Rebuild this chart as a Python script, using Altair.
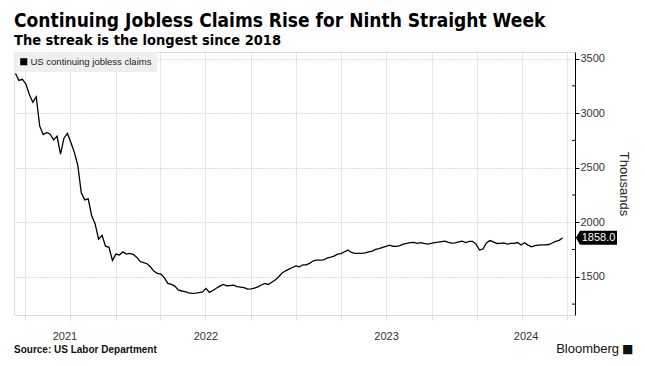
import altair as alt
import pandas as pd

# Weekly US continuing jobless claims (thousands)
values = [
    3363, 3300, 3310, 3267, 3170, 3100, 3149, 2880, 2804, 2823,
    2807, 2755, 2790, 2624, 2770, 2814, 2730, 2640, 2520, 2270,
    2205, 2215, 2060, 1985, 1845, 1880, 1781, 1770, 1650, 1708,
    1700, 1728, 1708, 1714, 1705, 1680, 1640, 1630, 1620, 1590,
    1550, 1531, 1525, 1490, 1440, 1430, 1415, 1380, 1370, 1365,
    1352, 1348, 1350, 1355, 1362, 1394, 1357, 1375, 1395, 1415,
    1430, 1418, 1420, 1424, 1410, 1405, 1400, 1387, 1390, 1396,
    1408, 1425, 1440, 1430, 1450, 1470, 1500, 1535, 1555, 1570,
    1585, 1600, 1592, 1610, 1610, 1625, 1647, 1652, 1653, 1655,
    1672, 1680, 1690, 1708, 1712, 1730, 1745, 1723, 1715, 1714,
    1714, 1720, 1729, 1735, 1751, 1758, 1770, 1778, 1790, 1780,
    1778, 1786, 1800, 1806, 1814, 1815, 1806, 1813, 1806, 1800,
    1806, 1814, 1818, 1823, 1827, 1815, 1808, 1810, 1820, 1826,
    1814, 1824, 1824, 1800, 1745, 1755, 1810, 1832, 1820, 1805,
    1806, 1810, 1800, 1806, 1806, 1814, 1792, 1812, 1790, 1775,
    1785, 1791, 1793, 1793, 1796, 1810, 1825, 1834, 1858,
]
dates = pd.date_range("2021-06-12", periods=len(values), freq="7D")
series_name = "US continuing jobless claims"

year_labels = ["2021", "2022", "2023", "2024"]
year_label_dates = ["2021-09-20", "2022-07-02", "2023-07-02", "2024-04-09"]

x_domain = ["2021-06-09", "2024-07-17"]
y_domain = [1150, 3560]
y_major_ticks = [1500, 2000, 2500, 3000, 3500]
y_minor_ticks = [1250, 1750, 2250, 2750, 3250]

W, H = 561, 263
FONT = "Liberation Sans"

df = pd.DataFrame({"date": dates, "value": values, "series": series_name})
last = df.tail(1).copy()
last["label"] = last["value"].map(lambda v: f"{v:.1f}")
years_df = pd.DataFrame({"date": pd.to_datetime(year_label_dates), "label": year_labels})
minor_df = pd.DataFrame({"value": y_minor_ticks})

x_scale = alt.Scale(domain=[pd.Timestamp(d).isoformat() for d in x_domain])
y_scale = alt.Scale(domain=y_domain, nice=False, zero=False)

x_axis = alt.Axis(
    title=None, labels=False, domain=False,
    tickCount={"interval": "month", "step": 3},
    grid=True, gridColor="#e6e6e6", gridWidth=1,
    ticks=True, tickColor="#dddddd", tickSize=5,
)
y_axis = alt.Axis(
    orient="right", title="Thousands", titleFontSize=13, titleFont=FONT,
    titleFontWeight="normal", titleColor="#222222", titlePadding=12,
    values=y_major_ticks, format="d",
    labelFont=FONT, labelFontSize=11, labelColor="#333333", labelPadding=1,
    domain=True, domainColor="#000000", domainWidth=1,
    ticks=True, tickColor="#000000", tickSize=4,
    grid=True, gridColor="#bbbbbb", gridDash=[1, 2],
)

line = alt.Chart(df).mark_line(strokeWidth=1.3, color="#000000").encode(
    x=alt.X("date:T", scale=x_scale, axis=x_axis),
    y=alt.Y("value:Q", scale=y_scale, axis=y_axis),
    color=alt.Color(
        "series:N",
        scale=alt.Scale(range=["#000000"]),
        legend=alt.Legend(
            title=None, orient="top-left", offset=0, padding=5,
            fillColor="#efefef", symbolType="square", symbolSize=50,
            symbolFillColor="#000000", symbolStrokeWidth=0,
            labelFont=FONT, labelFontSize=9.5, labelColor="#222222",
            labelOffset=2,
        ),
    ),
)

minor = alt.Chart(minor_df).mark_rule(color="#000000", strokeWidth=1).encode(
    x=alt.value(W - 3), x2=alt.value(W), y=alt.Y("value:Q", scale=y_scale)
)

box_path = "M-1.22,0 L-1,-0.38 L1,-0.38 L1,0.38 L-1,0.38 Z"
tag = alt.Chart(last).mark_point(
    shape=box_path, size=1369, filled=True, color="#000000", opacity=1
).encode(x=alt.value(W + 23.5), y=alt.Y("value:Q", scale=y_scale))
tag_text = alt.Chart(last).mark_text(
    color="#ffffff", fontSize=11, font=FONT, align="center", baseline="middle"
).encode(x=alt.value(W + 23.5), y=alt.Y("value:Q", scale=y_scale), text="label:N")

years = alt.Chart(years_df).mark_text(
    fontSize=11, font=FONT, color="#333333", baseline="middle", align="center"
).encode(x=alt.X("date:T", scale=x_scale), y=alt.value(H + 22), text="label:N")

source = alt.Chart(pd.DataFrame({"t": ["Source: US Labor Department"]})).mark_text(
    fontSize=10, font=FONT, fontWeight="bold", color="#111111", align="left", baseline="middle"
).encode(x=alt.value(0), y=alt.value(H + 35), text="t:N")
brand = alt.Chart(pd.DataFrame({"t": ["Bloomberg"]})).mark_text(
    fontSize=13, font=FONT, fontWeight=500, color="#111111", align="right", baseline="middle"
).encode(x=alt.value(W + 44), y=alt.value(H + 34), text="t:N")
logo = alt.Chart(pd.DataFrame({"t": ["\u25A0"]})).mark_text(
    fontSize=12, font="DejaVu Sans", color="#111111", align="left", baseline="middle"
).encode(x=alt.value(W + 47), y=alt.value(H + 34), text="t:N")

chart = alt.layer(line, minor, tag, tag_text, years, source, brand, logo).properties(
    width=W, height=H,
    padding={"left": 4, "top": 3, "right": 0, "bottom": 0},
    title=alt.TitleParams(
        text="Continuing Jobless Claims Rise for Ninth Straight Week",
        subtitle="The streak is the longest since 2018",
        anchor="start", frame="group",
        font="DejaVu Sans Condensed", fontSize=19, fontWeight="bold", color="#000000",
        subtitleFont="DejaVu Sans Condensed", subtitleFontSize=14.5,
        subtitleFontWeight="bold", subtitleColor="#000000",
        subtitlePadding=3, offset=5,
    ),
).configure_view(stroke=None).configure(background="#ffffff")

chart.save("out.html", embed_options={"renderer": "svg", "actions": False})
